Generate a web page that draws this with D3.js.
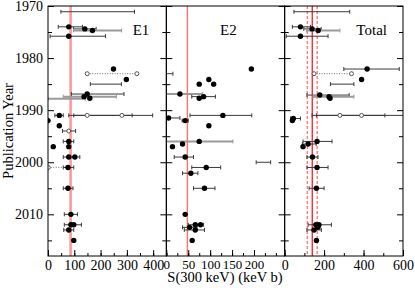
<!DOCTYPE html>
<html>
<head>
<meta charset="utf-8">
<script src="https://cdn.jsdelivr.net/npm/d3@7"></script>
<style>
  body { margin: 0; background: #fff; }
  svg { font-family: "Liberation Serif", "Times New Roman", serif; }
</style>
</head>
<body>
<div id="chart"></div>
<script>
// panel names and axis ticks
var panelNames = ["E1", "E2", "Total"];
var xMax = [450, 270, 600];
var xLabelTicks = [[0, 100, 200, 300, 400], [0, 50, 100, 150, 200], [0, 200, 400, 600]];
var xMinorStep = [50, 25, 100];
var yearDomain = [1970, 2018];
var yearTicks = [1970, 1980, 1990, 2000, 2010];
var yearMinor = [1975, 1985, 1995, 2005, 2015];

// measurements: [year, S, low, high, marker, bar]
// marker "f" filled, "o" open, "" none ; bar "k" black, "g" grey, "" none
var e1Data = [
  [1971.1, null, 49, 329, "", "k"],
  [1974.0, 79, 39, 131, "f", "k"],
  [1974.4, 140, 97, 183, "f", "k"],
  [1974.7, 169, 97, 280, "f", "g"],
  [1975.8, 79, 8, 219, "f", "k"],
  [1982.1, 249, null, null, "f", ""],
  [1983.0, 149, null, null, "o", ""],
  [1983.0, 338, null, null, "o", ""],
  [1984.1, 298, null, null, "f", ""],
  [1985.0, null, 161, 279, "", "k"],
  [1986.9, 149, 89, 289, "f", "k"],
  [1987.4, 137, 58, 260, "f", "g"],
  [1987.7, 159, null, null, "f", ""],
  [1987.8, null, 0, 142, "", "g"],
  [1991.0, 43, 26, 58, "f", "k"],
  [1991.0, 149, 79, 320, "o", "k"],
  [1991.0, 281, 98, 398, "o", "k"],
  [1992.0, 0, null, null, "f", ""],
  [1993.0, 43, null, null, "f", ""],
  [1994.0, 79, 55, 105, "o", "k"],
  [1996.0, 79, 58, 98, "f", "k"],
  [1997.0, 20, null, null, "f", ""],
  [1997.0, 79, null, null, "f", ""],
  [1999.0, 79, 58, 98, "f", "k"],
  [1999.0, 102, 85, 121, "f", "k"],
  [2001.0, 1, null, null, "o", ""],
  [2001.0, 76, 58, 98, "f", "k"],
  [2005.0, 76, 58, 95, "f", "k"],
  [2010.0, 87, 62, 112, "f", "k"],
  [2012.0, 87, 62, 127, "f", "k"],
  [2012.0, 98, null, null, "f", ""],
  [2013.0, 79, 60, 98, "f", "k"],
  [2015.0, 98, null, null, "f", ""]
];

var e2Data = [
  [1982.1, 194, null, null, "f", ""],
  [1983.0, null, 0, 15, "", "k"],
  [1984.1, 97, null, null, "f", ""],
  [1985.0, 75, null, null, "f", ""],
  [1985.0, 108, null, null, "f", ""],
  [1986.9, 31, 0, 83, "f", "g"],
  [1987.4, 85, 58, 112, "f", "k"],
  [1987.7, 75, null, null, "f", ""],
  [1991.0, 129, 54, 195, "f", "k"],
  [1991.5, 5, 0, 31, "f", "k"],
  [1992.0, 43, 36, 50, "f", "k"],
  [1993.0, 97, null, null, "f", ""],
  [1996.0, 75, 0, 152, "f", "g"],
  [1996.5, 37, null, null, "f", ""],
  [1997.0, 14, null, null, "f", ""],
  [1999.0, 43, 18, 62, "f", "k"],
  [2000.0, null, 205, 238, "", "k"],
  [2001.0, 91, 58, 124, "f", "k"],
  [2002.1, 56, 37, 72, "f", "k"],
  [2005.0, 87, 62, 111, "f", "k"],
  [2010.0, 43, null, null, "f", ""],
  [2012.0, 66, 50, 85, "f", "k"],
  [2012.0, 78, null, null, "f", ""],
  [2012.5, 53, 37, 70, "f", "k"],
  [2013.0, 66, 41, 87, "f", "k"],
  [2015.0, 59, null, null, "f", ""]
];

var totalData = [
  [1971.1, null, 47, 330, "", "k"],
  [1974.0, 80, 39, 131, "f", "k"],
  [1974.4, 139, 97, 185, "f", "k"],
  [1974.7, 170, 110, 280, "f", "g"],
  [1975.8, 80, 8, 220, "f", "k"],
  [1982.1, 418, 300, 581, "f", "k"],
  [1983.0, 149, null, null, "o", ""],
  [1983.0, 339, null, null, "o", ""],
  [1984.1, 390, null, null, "f", ""],
  [1985.0, null, 232, 351, "", "k"],
  [1987.1, 178, 113, 327, "f", "k"],
  [1987.4, 225, 144, 351, "f", "g"],
  [1987.7, 230, null, null, "f", ""],
  [1991.0, 280, 139, 508, "o", "k"],
  [1991.0, 390, 161, 620, "o", "k"],
  [1991.6, 44, 30, 80, "f", "k"],
  [1992.0, 39, null, null, "f", ""],
  [1996.0, 164, 93, 240, "f", "k"],
  [1996.5, 119, 90, 160, "f", "k"],
  [1997.0, 93, null, null, "f", ""],
  [1999.0, 141, 113, 169, "f", "k"],
  [2001.0, 164, 113, 220, "f", "k"],
  [2005.0, 161, 124, 200, "f", "k"],
  [2012.0, 158, 119, 237, "f", "k"],
  [2012.0, 174, null, null, "f", ""],
  [2012.5, 169, null, null, "f", ""],
  [2013.0, 149, 113, 186, "f", "k"],
  [2015.0, 161, null, null, "f", ""]
];

// dotted connections: [year, from, to]
var e1Links = [[1983.0, 149, 338], [2001.0, 1, 76]];
var e2Links = [];
var totalLinks = [[1983.0, 149, 339]];

// adopted values: [central, low, high]
var e1Adopted = [86];
var e2Adopted = [48];
var totalAdopted = [140, 115, 165];

var allData = [e1Data, e2Data, totalData];
var allLinks = [e1Links, e2Links, totalLinks];
var allAdopted = [e1Adopted, e2Adopted, totalAdopted];

// set the dimensions
var width = 415, height = 288;
var plotLeft = 48, plotRight = 403, plotTop = 6, plotBottom = 256;
var pw = (plotRight - plotLeft) / 3;
var titleX = [93, 62, 87];
var labelSize = [14, 13, 14];

var svg = d3.select("#chart").append("svg")
    .attr("width", width)
    .attr("height", height);

var y = d3.scaleLinear().domain(yearDomain).range([plotTop, plotBottom]);

function steps(step, max) {
  return d3.range(0, max + 0.001, step);
}

// strip the default axis styling
function plain(a) {
  a.attr("font-family", null).attr("font-size", null);
  a.select(".domain").remove();
  a.selectAll("text").attr("font-size", 14).attr("fill", "#000");
  a.selectAll("line").attr("stroke", "#000");
}

panelNames.forEach(function(name, i) {
  var x = d3.scaleLinear().domain([0, xMax[i]]).range([0, pw]);
  var g = svg.append("g")
      .attr("transform", "translate(" + (plotLeft + i * pw) + ",0)");

  g.append("clipPath").attr("id", "clip" + i)
    .append("rect")
      .attr("x", 0).attr("y", plotTop)
      .attr("width", pw).attr("height", plotBottom - plotTop);

  var plot = g.append("g").attr("clip-path", "url(#clip" + i + ")");

  // adopted value lines
  plot.selectAll("line.adopt")
    .data(allAdopted[i])
    .enter().append("line")
      .attr("class", "adopt")
      .attr("x1", function(d) { return x(d); })
      .attr("x2", function(d) { return x(d); })
      .attr("y1", plotTop).attr("y2", plotBottom)
      .attr("stroke", function(d, j) {
        if (i == 0) return "#ff9a9a";
        if (i == 1) return "#ff7070";
        return j == 0 ? "#ff2a2a" : "#ff7a7a";
      })
      .attr("stroke-width", function() { return i == 0 ? 2.6 : 1.4; })
      .attr("stroke-dasharray", function(d, j) { return (i == 2 && j > 0) ? "3,2" : null; });

  // dotted links between alternatives
  plot.selectAll("line.link")
    .data(allLinks[i])
    .enter().append("line")
      .attr("class", "link")
      .attr("x1", function(d) { return x(d[1]); })
      .attr("x2", function(d) { return x(d[2]); })
      .attr("y1", function(d) { return y(d[0]); })
      .attr("y2", function(d) { return y(d[0]); })
      .attr("stroke", "#888")
      .attr("stroke-width", 1.2)
      .attr("stroke-dasharray", "1,1.5");

  // error bars
  var bars = allData[i].filter(function(d) { return d[5] != ""; });
  var eb = plot.selectAll("g.err")
    .data(bars)
    .enter().append("g")
      .attr("class", "err")
      .attr("stroke", function(d) { return d[5] == "g" ? "#9a9a9a" : "#3a3a3a"; })
      .attr("stroke-width", function(d) { return d[5] == "g" ? 2 : 1; });
  eb.append("line")
      .attr("x1", function(d) { return x(d[2]); })
      .attr("x2", function(d) { return x(d[3]); })
      .attr("y1", function(d) { return y(d[0]); })
      .attr("y2", function(d) { return y(d[0]); });
  [2, 3].forEach(function(c) {
    eb.append("line")
        .attr("x1", function(d) { return x(d[c]); })
        .attr("x2", function(d) { return x(d[c]); })
        .attr("y1", function(d) { return y(d[0]) - 2; })
        .attr("y2", function(d) { return y(d[0]) + 2; })
        .attr("stroke-width", 1);
  });

  // points
  var pts = allData[i].filter(function(d) { return d[4] != ""; });
  plot.selectAll("circle.pt")
    .data(pts)
    .enter().append("circle")
      .attr("class", "pt")
      .attr("cx", function(d) { return x(d[1]); })
      .attr("cy", function(d) { return y(d[0]); })
      .attr("r", function(d) { return d[4] == "f" ? 2.7 : 2; })
      .attr("fill", function(d) { return d[4] == "f" ? "#000" : "#fff"; })
      .attr("stroke", function(d) { return d[4] == "f" ? "none" : "#555"; })
      .attr("stroke-width", 1);

  // x axis, major and minor ticks pointing inwards
  g.append("g")
      .attr("transform", "translate(0," + plotBottom + ")")
      .call(d3.axisBottom(x).tickValues(steps(xMinorStep[i], xMax[i])).tickSize(-3).tickFormat(""))
      .call(plain);
  g.append("g")
      .attr("transform", "translate(0," + plotBottom + ")")
      .call(d3.axisBottom(x).tickValues(xLabelTicks[i]).tickSize(-6).tickPadding(4).tickFormat(d3.format("d")))
      .call(plain)
      .call(function(a) { a.selectAll("text").attr("font-size", labelSize[i]); });

  // y axis ticks on both sides of every panel
  [d3.axisLeft, d3.axisRight].forEach(function(axis, k) {
    var ag = g.append("g").attr("transform", "translate(" + (k * pw) + ",0)");
    ag.append("g")
        .call(axis(y).tickValues(yearMinor).tickSize(-4).tickFormat(""))
        .call(plain);
    ag.append("g")
        .call(axis(y).tickValues(yearTicks).tickSize(-6).tickPadding(5)
          .tickFormat((i == 0 && k == 0) ? d3.format("d") : ""))
        .call(plain);
  });

  // frame
  g.append("rect")
      .attr("x", 0).attr("y", plotTop)
      .attr("width", pw).attr("height", plotBottom - plotTop)
      .attr("fill", "none")
      .attr("stroke", "#000")
      .attr("stroke-width", 1);

  // panel title
  g.append("text")
      .attr("x", titleX[i])
      .attr("y", 35)
      .attr("text-anchor", "middle")
      .attr("font-size", 15)
      .text(name);
});

// axis titles
svg.append("text")
    .attr("x", 225)
    .attr("y", 282)
    .attr("text-anchor", "middle")
    .attr("font-size", 14.5)
    .text("S(300 keV) (keV b)");

svg.append("text")
    .attr("transform", "translate(13," + (plotTop + plotBottom) / 2 + ") rotate(-90)")
    .attr("text-anchor", "middle")
    .attr("font-size", 14.5)
    .text("Publication Year");
</script>
</body>
</html>
